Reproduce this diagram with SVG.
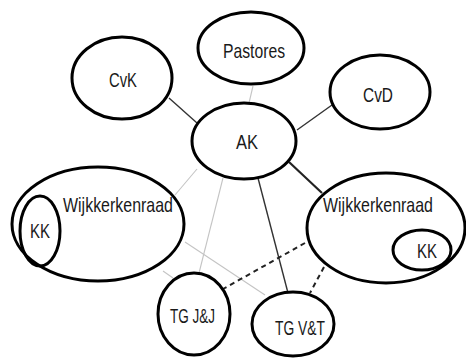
<svg xmlns="http://www.w3.org/2000/svg" width="466" height="358" viewBox="0 0 466 358">
<style>
.n{fill:none;stroke:#000;stroke-width:3}
.t{font-family:"Liberation Sans",Arial,sans-serif;font-size:21px;fill:#1a1a1a;text-anchor:start}
.d{stroke:#333;stroke-width:1.4;fill:none}
.dk{stroke:#222;stroke-width:2.2;fill:none}
.l{stroke:#c4c4c4;stroke-width:1.1;fill:none}
.ds{stroke:#222;stroke-width:2;stroke-dasharray:5,4;fill:none}
</style>
<rect width="466" height="358" fill="#fff"/>
<g id="connectors">
<line class="d" x1="169" y1="98" x2="197" y2="123"/>
<line class="l" x1="253" y1="86" x2="249" y2="103"/>
<line class="d" x1="332" y1="105" x2="297" y2="130"/>
<line class="dk" x1="289" y1="162" x2="322" y2="193"/>
<line class="l" x1="197" y1="169" x2="175" y2="195"/>
<line class="l" x1="223" y1="178" x2="199" y2="273"/>
<line class="d" x1="258" y1="178" x2="288" y2="293"/>
<line class="l" x1="185" y1="242" x2="265" y2="295"/>
<line class="l" x1="163" y1="271" x2="173" y2="278"/>
<line class="ds" x1="305" y1="243" x2="223" y2="289"/>
<line class="ds" x1="324" y1="267" x2="310" y2="293"/>
</g>
<g id="pastores"><ellipse class="n" cx="251" cy="48" rx="53" ry="36"/><text class="t" x="223" y="58" textLength="62" lengthAdjust="spacingAndGlyphs">Pastores</text></g>
<g id="cvk"><ellipse class="n" cx="122" cy="78" rx="50" ry="41"/><text class="t" x="109" y="87" textLength="28" lengthAdjust="spacingAndGlyphs">CvK</text></g>
<g id="cvd"><ellipse class="n" cx="380" cy="92" rx="50" ry="37"/><text class="t" x="363" y="102" textLength="30" lengthAdjust="spacingAndGlyphs">CvD</text></g>
<g id="ak"><ellipse class="n" cx="244" cy="141" rx="52" ry="38"/><text class="t" x="236" y="149" textLength="22" lengthAdjust="spacingAndGlyphs">AK</text></g>
<g id="wijk-left"><ellipse class="n" cx="98" cy="224" rx="86" ry="57"/><text class="t" x="63" y="212" textLength="110" lengthAdjust="spacingAndGlyphs">Wijkkerkenraad</text></g>
<g id="kk-left"><ellipse class="n" cx="40" cy="231" rx="20" ry="35"/><text class="t" x="30" y="238" textLength="20" lengthAdjust="spacingAndGlyphs">KK</text></g>
<g id="wijk-right"><ellipse class="n" cx="386" cy="228" rx="79" ry="55"/><text class="t" x="323" y="212" textLength="110" lengthAdjust="spacingAndGlyphs">Wijkkerkenraad</text></g>
<g id="kk-right"><ellipse class="n" cx="422" cy="250" rx="29" ry="20"/><text class="t" x="417" y="258" textLength="20" lengthAdjust="spacingAndGlyphs">KK</text></g>
<g id="tgjj"><ellipse class="n" cx="194" cy="314" rx="36" ry="41"/><text class="t" x="170" y="323" textLength="45" lengthAdjust="spacingAndGlyphs">TG J&amp;J</text></g>
<g id="tgvt"><ellipse class="n" cx="293" cy="324" rx="41" ry="32"/><text class="t" x="275" y="335" textLength="50" lengthAdjust="spacingAndGlyphs">TG V&amp;T</text></g>
</svg>
